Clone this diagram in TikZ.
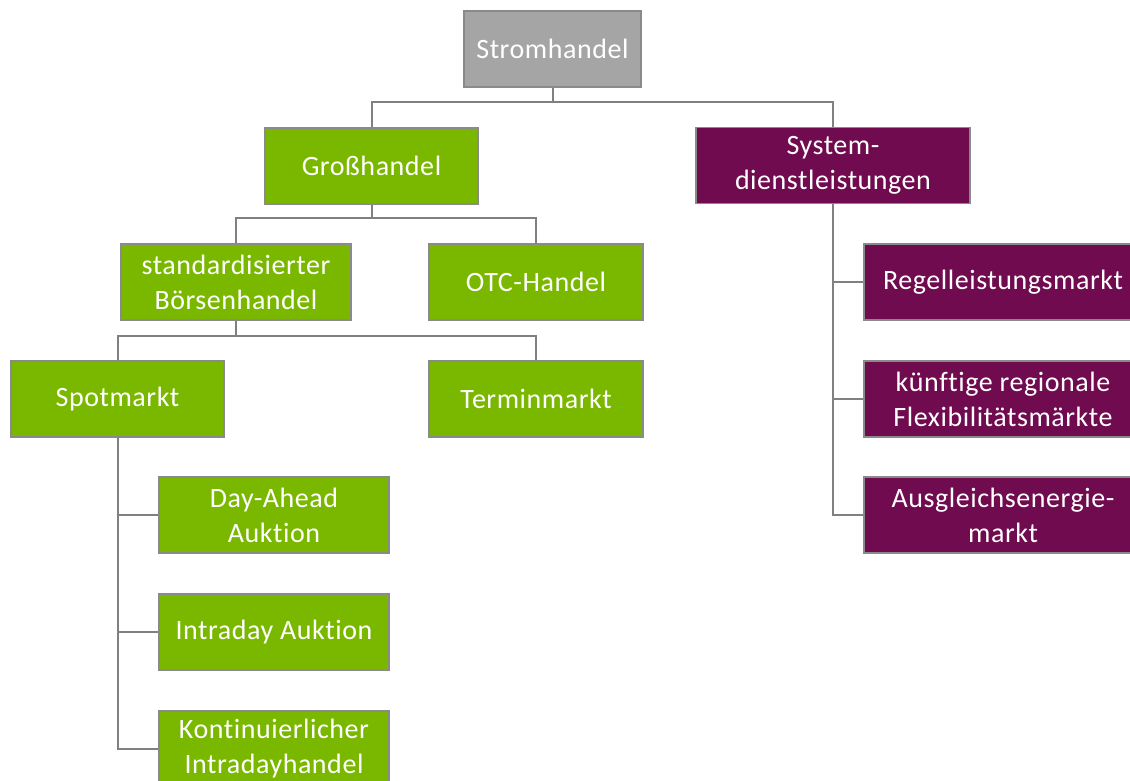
\documentclass[tikz,border=0pt]{standalone}
\usepackage{fontspec}
\setmainfont{Carlito}[Ligatures={NoCommon}, LetterSpace=2]
\definecolor{boxgreen}{HTML}{7AB800}
\definecolor{boxplum}{HTML}{700B4F}
\definecolor{boxgray}{HTML}{A5A5A5}
\definecolor{edgegray}{HTML}{8A8A8A}
\definecolor{linegray}{HTML}{808080}
\begin{document}
\begin{tikzpicture}[x=1pt,y=-1pt,
  box/.style={draw=edgegray, line width=1.8pt, rectangle, inner sep=0pt,
    minimum height=76pt, align=center, text=white,
    font=\fontsize{28}{35}\selectfont},
  greenbox/.style={box, fill=boxgreen},
  plumbox/.style={box, fill=boxplum},
  graybox/.style={box, fill=boxgray},
  conn/.style={draw=linegray, line width=2pt}]
\useasboundingbox (0,0) rectangle (1130,780);
\clip (0,0) rectangle (1130,780);

% tree nodes
\node[graybox, minimum width=177pt] (strom) at (552.5,49) {Stromhandel};
\node[greenbox, minimum width=213pt] (gross) at (371.5,166) {Großhandel};
\node[plumbox, minimum width=274pt] (sys) at (833,165.5) {System-\\dienstleistungen};
\node[greenbox, minimum width=230pt] (boerse) at (236,282) {standardisierter\\Börsenhandel};
\node[greenbox, minimum width=214pt] (otc) at (536,282) {OTC-Handel};
\node[greenbox, minimum width=213pt] (spot) at (117.5,399) {Spotmarkt};
\node[greenbox, minimum width=214pt] (termin) at (536,399) {Terminmarkt};
\node[greenbox, minimum width=230pt] (dayahead) at (274,515) {Day-Ahead\\Auktion};
\node[greenbox, minimum width=230pt] (intraauk) at (274,632) {Intraday Auktion};
\node[greenbox, minimum width=230pt] (kont) at (274,749) {Kontinuierlicher\\Intradayhandel};
\node[plumbox, minimum width=278pt] (regel) at (1003,282) {Regelleistungsmarkt};
\node[plumbox, minimum width=278pt] (flex) at (1003,399) {künftige regionale\\Flexibilitätsmärkte};
\node[plumbox, minimum width=278pt] (ausgl) at (1003,515) {Ausgleichsenergie-\\markt};

% bus points of the horizontal branches
\coordinate (busA) at (552.5,102);
\coordinate (busB) at (371.5,218);
\coordinate (busC) at (236,336);

\begin{scope}[on background layer/.try]
\draw[conn] (strom.south) -- (busA) -| (gross.north);
\draw[conn] (busA) -| (sys.north);
\draw[conn] (gross.south) -- (busB) -| (boerse.north);
\draw[conn] (busB) -| (otc.north);
\draw[conn] (boerse.south) -- (busC) -| (spot.north);
\draw[conn] (busC) -| (termin.north);
\draw[conn] (spot.south) |- (dayahead.west);
\draw[conn] (spot.south) |- (intraauk.west);
\draw[conn] (spot.south) |- (kont.west);
\draw[conn] (sys.south) |- (regel.west);
\draw[conn] (sys.south) |- (flex.west);
\draw[conn] (sys.south) |- (ausgl.west);
\end{scope}
\end{tikzpicture}
\end{document}
